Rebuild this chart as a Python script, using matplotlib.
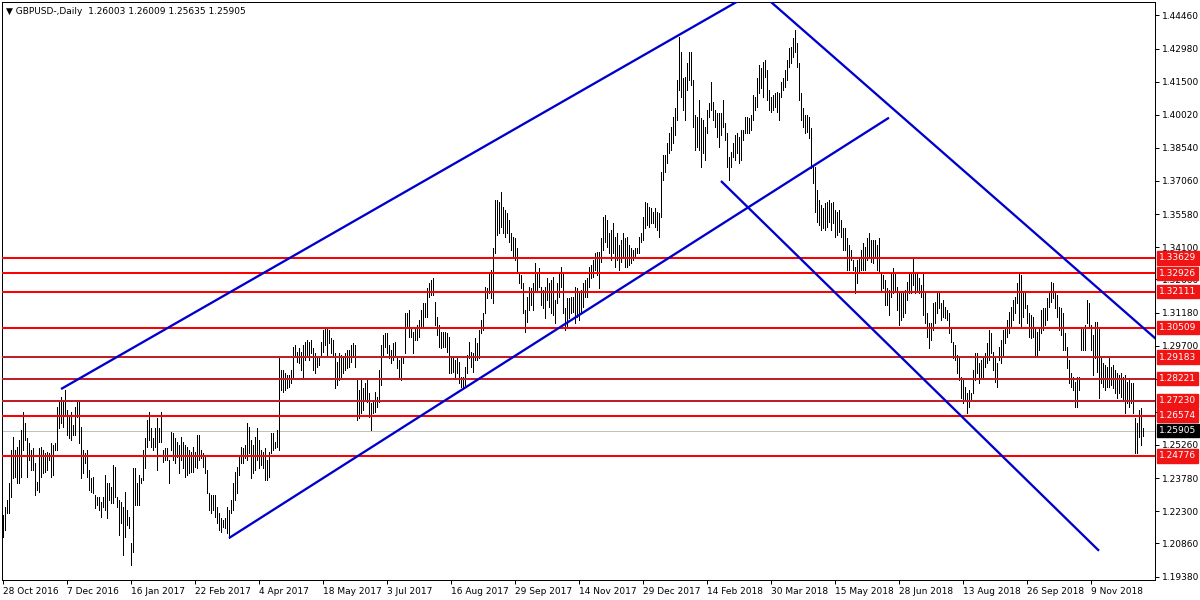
import numpy as np
import matplotlib
matplotlib.use("Agg")
import matplotlib.pyplot as plt
import matplotlib.transforms as mtransforms

# GBPUSD daily chart (MT4 style)

chart_title = "\u25bc GBPUSD-,Daily  1.26003 1.26009 1.25635 1.25905"
last_close = 1.25905

# daily highs and lows in pips (12213 -> 1.2213), one entry per bar
high_pips = [
    12213, 12249, 12280, 12356, 12504, 12562, 12504, 12517, 12548, 12593,
    12673, 12624, 12557, 12535, 12504, 12512, 12445, 12360, 12512, 12517,
    12504, 12490, 12495, 12490, 12535, 12526, 12535, 12696, 12727, 12740,
    12727, 12772, 12682, 12660, 12673, 12615, 12696, 12727, 12727, 12606,
    12504, 12490, 12504, 12414, 12378, 12383, 12302, 12293, 12293, 12271,
    12293, 12392, 12356, 12356, 12338, 12436, 12428, 12293, 12280, 12271,
    12249, 12316, 12235, 12204, 12088, 12423, 12423, 12356, 12392, 12378,
    12504, 12557, 12638, 12673, 12602, 12557, 12602, 12647, 12602, 12673,
    12504, 12512, 12512, 12459,
    12584, 12580, 12557, 12539, 12526, 12562, 12539, 12526, 12517, 12504,
    12495, 12517, 12495, 12571, 12571, 12504, 12490, 12472, 12414, 12311,
    12302, 12302, 12302, 12249, 12222, 12200, 12191, 12200, 12249, 12235,
    12280, 12356, 12405, 12428, 12472, 12517, 12512, 12526, 12624, 12606,
    12548, 12526, 12562, 12602, 12548, 12504, 12495, 12512, 12459, 12495,
    12580, 12580, 12539, 12593, 12915, 12861, 12861, 12848, 12839, 12839,
    12861, 12964, 12973, 12942, 12959, 12942, 12973, 12986, 12995, 12986,
    12995, 12959, 12937, 12915, 12919, 12986, 13040, 13049, 13049, 13040,
    13004, 12995,
    12937, 12897, 12937, 12928, 12919, 12937, 12951, 12951, 12973, 12982,
    12973, 12816, 12772, 12816, 12781, 12803, 12816, 12758, 12714, 12718,
    12763, 12740, 12861, 12973, 13018, 13027, 13027, 12973, 12951, 12982,
    12986, 12915, 12906, 12915, 12919, 13116, 13116, 13129, 13053, 13031,
    13049, 13062, 13085, 13129, 13161, 13161, 13228, 13250, 13263, 13272,
    13165, 13098, 13062, 13031, 13031, 13031, 13027, 13009, 12919, 12915,
    12906, 12919, 12897, 12830, 12830, 12875, 12928, 12986, 12942, 12937,
    13004, 12982, 13040, 13085, 13116, 13232, 13228, 13295, 13308, 13406,
    13621, 13621,
    13612, 13657, 13590, 13576, 13563, 13532, 13474, 13456, 13451, 13406,
    13295, 13286, 13250, 13129, 13187, 13232, 13228, 13250, 13339, 13295,
    13317, 13232, 13219, 13232, 13272, 13250, 13263, 13277, 13174, 13250,
    13299, 13321, 13295, 13138, 13183, 13183, 13187, 13187, 13232, 13228,
    13205, 13219, 13250, 13263, 13272, 13321, 13330, 13353, 13384, 13389,
    13389, 13451, 13545, 13554, 13532, 13474, 13487, 13518, 13456, 13474,
    13420, 13442, 13474, 13451, 13456, 13420, 13406, 13398, 13406, 13406,
    13456, 13474, 13545, 13612, 13608, 13590, 13585, 13567, 13585, 13567,
    13563, 13746, 13822,
    13822, 13876, 13920, 13947, 13992, 14032, 14157, 14350, 14283, 14166,
    14171, 14233, 14283, 14283, 14157, 14001, 13992, 14068, 13988, 13979,
    13947, 14023, 14055, 14149, 14059, 14023, 14010, 14010, 14010, 14068,
    13965, 13920, 13813, 13836, 13876, 13912, 13920, 13903, 13934, 13934,
    13992, 13992, 13988, 14001, 14090, 14081, 14166, 14224, 14211, 14238,
    14247, 14202, 14113, 14081, 14090, 14099, 14104, 14099, 14149, 14166,
    14202, 14247, 14300, 14305, 14345, 14381, 14323, 14233, 14099, 14032,
    14001, 14001, 13992, 13943, 13777, 13769, 13666, 13621, 13599, 13585,
    13608, 13612, 13621, 13608, 13612, 13576, 13567, 13576, 13532, 13496,
    13496, 13451, 13420, 13398, 13353, 13321, 13353, 13362, 13398, 13429,
    13411, 13451, 13474, 13442, 13442, 13442, 13420, 13451, 13295, 13286,
    13263, 13228, 13219, 13295, 13317, 13295, 13232, 13210, 13210, 13205,
    13219, 13254, 13295, 13295, 13362, 13299, 13295, 13272, 13241, 13295,
    13205, 13116, 13071, 13071, 13161, 13165, 13205, 13205, 13161, 13174,
    13143, 13129, 13116, 13049, 12986, 12973, 12928, 12915, 12830, 12816,
    12785, 12758, 12772, 12758, 12861, 12937, 12937, 12892, 12906, 12919,
    12937, 12982, 13040, 13027, 12942,
    12919, 12892, 12964, 12995, 13040, 13049, 13085, 13120, 13143, 13174,
    13187, 13250, 13295, 13286, 13210, 13210, 13152, 13116, 13107, 13098,
    13053, 13031, 13049, 13129, 13138, 13138, 13183, 13210, 13254, 13250,
    13210, 13196, 13143, 13138, 13116, 13027, 12964, 12906, 12848, 12830,
    12807, 12830, 12830, 13049, 13053, 13062, 13174, 13161, 13062, 13018,
    13076, 13076, 13053, 12919, 12892, 12883, 12875, 12919, 12875, 12883,
    12861, 12848, 12839, 12848, 12830, 12839, 12807, 12816, 12803, 12803,
    12647, 12624, 12682, 12691, 12601,
]

low_pips = [
    12115, 12146, 12222, 12222, 12293, 12378, 12383, 12356, 12356, 12383,
    12504, 12548, 12383, 12459, 12414, 12414, 12302, 12325, 12316, 12383,
    12401, 12405, 12414, 12459, 12383, 12392, 12504, 12504, 12602, 12624,
    12606, 12660, 12571, 12557, 12548, 12571, 12571, 12651, 12535, 12378,
    12401, 12445, 12383, 12325, 12316, 12311, 12244, 12258, 12235, 12204,
    12249, 12235, 12200, 12280, 12267, 12267, 12293, 12249, 12124, 12177,
    12034, 12115, 12168, 12155, 11989, 12048, 12258, 12258, 12258, 12356,
    12369, 12423, 12517, 12548, 12517, 12504, 12517, 12414, 12539, 12539,
    12450, 12459, 12459, 12356,
    12504, 12459, 12445, 12472, 12401, 12459, 12423, 12383, 12392, 12401,
    12405, 12405, 12428, 12423, 12459, 12468, 12428, 12401, 12311, 12235,
    12222, 12235, 12204, 12177, 12146, 12137, 12159, 12155, 12132, 12110,
    12222, 12235, 12280, 12311, 12392, 12445, 12445, 12468, 12459, 12490,
    12378, 12401, 12414, 12459, 12423, 12436, 12423, 12369, 12369, 12383,
    12490, 12504, 12512, 12517, 12504, 12772, 12763, 12772, 12781, 12785,
    12803, 12830, 12928, 12897, 12892, 12861, 12830, 12906, 12919, 12906,
    12937, 12861, 12848, 12875, 12883, 12919, 12942, 12973, 12928, 12982,
    12937, 12928,
    12781, 12794, 12816, 12830, 12848, 12861, 12870, 12875, 12897, 12919,
    12875, 12638, 12647, 12669, 12682, 12727, 12718, 12651, 12593, 12669,
    12673, 12696, 12718, 12794, 12919, 12964, 12937, 12915, 12892, 12906,
    12919, 12870, 12830, 12816, 12892, 12937, 13053, 13009, 13009, 12937,
    12995, 12995, 13009, 13053, 13053, 13098, 13098, 13187, 13196, 13196,
    13062, 13018, 12964, 12959, 12964, 12964, 12942, 12848, 12848, 12852,
    12830, 12848, 12803, 12785, 12785, 12794, 12848, 12915, 12875, 12852,
    12906, 12906, 12915, 13027, 13040, 13116, 13183, 13205, 13183, 13161,
    13384, 13465,
    13474, 13500, 13474, 13456, 13474, 13433, 13398, 13366, 13353, 13295,
    13250, 13228, 13116, 13031, 13076, 13129, 13152, 13129, 13219, 13219,
    13232, 13152, 13138, 13094, 13174, 13143, 13116, 13107, 13071, 13161,
    13187, 13232, 13116, 13040, 13053, 13094, 13116, 13120, 13071, 13098,
    13085, 13116, 13143, 13187, 13187, 13232, 13272, 13277, 13308, 13286,
    13228, 13344, 13398, 13433, 13411, 13384, 13353, 13384, 13321, 13353,
    13308, 13344, 13366, 13321, 13321, 13330, 13339, 13353, 13362, 13384,
    13384, 13433, 13442, 13496, 13509, 13500, 13518, 13518, 13500, 13487,
    13456, 13545, 13710,
    13746, 13786, 13831, 13845, 13876, 13912, 13979, 14113, 14081, 14023,
    13979, 14113, 14157, 14135, 13947, 13845, 13858, 13845, 13769, 13831,
    13800, 13920, 13992, 14023, 13979, 13947, 13903, 13858, 13912, 13947,
    13889, 13769, 13710, 13769, 13813, 13800, 13831, 13786, 13800, 13889,
    13920, 13920, 13920, 13934, 13979, 14023, 14037, 14099, 14122, 14081,
    14171, 14068, 14023, 14014, 14023, 14037, 14014, 13979, 14081, 14113,
    14126, 14157, 14216, 14233, 14260, 14283, 14216, 14068, 13979, 13947,
    13920, 13925, 13898, 13764, 13697, 13567, 13523, 13509, 13487, 13496,
    13487, 13500, 13523, 13487, 13518, 13456, 13465, 13478, 13456, 13398,
    13398, 13308, 13308, 13353, 13308, 13205, 13250, 13295, 13308, 13308,
    13308, 13353, 13366, 13344, 13339, 13366, 13308, 13295, 13219, 13228,
    13152, 13152, 13107, 13187, 13205, 13219, 13129, 13062, 13085, 13098,
    13116, 13174, 13205, 13205, 13241, 13205, 13219, 13205, 13187, 13107,
    13071, 13009, 12959, 12995, 13040, 13071, 13116, 13138, 13085, 13098,
    13094, 13085, 13027, 12986, 12915, 12906, 12848, 12816, 12736, 12714,
    12727, 12669, 12696, 12727, 12758, 12816, 12848, 12803, 12825, 12830,
    12875, 12892, 12906, 12937, 12861,
    12807, 12785, 12906, 12892, 12919, 12982, 13009, 13027, 13053, 13085,
    13116, 13161, 13071, 13053, 13098, 13138, 13071, 13009, 13004, 13009,
    12928, 12928, 12951, 13027, 13040, 13062, 13085, 13143, 13165, 13183,
    13138, 13098, 13040, 13018, 12951, 12951, 12870, 12803, 12785, 12772,
    12696, 12696, 12772, 12951, 12951, 12951, 13071, 13049, 12951, 12839,
    12915, 12852, 12736, 12803, 12785, 12772, 12785, 12785, 12794, 12781,
    12758, 12736, 12758, 12740, 12727, 12669, 12714, 12696, 12714, 12669,
    12490, 12490, 12562, 12526, 12564,
]

# bottom axis labels, one every 32 bars
date_labels = [
    "28 Oct 2016", "7 Dec 2016", "16 Jan 2017", "22 Feb 2017", "4 Apr 2017",
    "18 May 2017", "3 Jul 2017", "16 Aug 2017", "29 Sep 2017", "14 Nov 2017",
    "29 Dec 2017", "14 Feb 2018", "30 Mar 2018", "15 May 2018", "28 Jun 2018",
    "13 Aug 2018", "26 Sep 2018", "9 Nov 2018",
]
date_step = 32

price_ticks = [
    1.44460, 1.42980, 1.41500, 1.40020, 1.38540, 1.37060, 1.35580, 1.34100,
    1.32660, 1.31180, 1.29700, 1.28220, 1.26740, 1.25260, 1.23780, 1.22300,
    1.20860, 1.19380,
]
# these two scale labels sit under the level boxes in the screenshot
hidden_ticks = [1.28220, 1.26740]

# horizontal support / resistance levels
levels = [1.33629, 1.32926, 1.32111, 1.30509, 1.29183, 1.28221, 1.27230, 1.26574, 1.24776]
line_colors = ["#ff0000", "#ff0000", "#ff0000", "#ff0000", "#c01e28",
               "#c01e28", "#c01e28", "#ff0000", "#ff0000"]
box_color = "#f01414"

# trend lines as (bar, price) anchors
trend_starts = [(29, 1.2776), (113, 1.2110), (384, 1.4506), (359, 1.3706)]
trend_ends = [(380, 1.4574), (443, 1.3989), (578, 1.2988), (548, 1.2053)]

highs = np.array(high_pips) / 10000.0
lows = np.array(low_pips) / 10000.0
bars = np.arange(len(highs))

W, H = 1200, 600
fig = plt.figure(figsize=(W / 100, H / 100), dpi=100)
fig.patch.set_facecolor("white")
ax = fig.add_axes([2 / W, 20 / H, 1153 / W, 578 / H])
ax.set_facecolor("white")

px = 72 / 100  # one pixel in points

ax.axhline(last_close, color="#c0c0c0", lw=px, zorder=1)
ax.vlines(bars, lows, highs, color="black", lw=px, antialiased=False, zorder=2)

for lvl, col in zip(levels, line_colors):
    ax.axhline(lvl, color=col, lw=2 * px, zorder=3)

for (x0, y0), (x1, y1) in zip(trend_starts, trend_ends):
    ax.plot([x0, x1], [y0, y1], color="#0000cd", lw=2.3 * px,
            solid_capstyle="butt", zorder=4)

ax.set_xlim(-0.5, 576)
ax.set_ylim(1.19224, 1.45061)

# axes / ticks
for sp in ax.spines.values():
    sp.set_color("black")
    sp.set_linewidth(px)

ax.yaxis.tick_right()
ax.set_yticks(price_ticks)
ax.set_yticklabels(["" if v in hidden_ticks else f"{v:.5f}" for v in price_ticks])
ax.tick_params(axis="y", direction="out", length=3, width=px, pad=2,
               labelsize=6.5, colors="black")

ax.set_xticks(np.arange(len(date_labels)) * date_step)
ax.set_xticklabels(date_labels, ha="left")
ax.tick_params(axis="x", direction="out", length=3, width=px, pad=2,
               labelsize=6.5, colors="black")

# price boxes on the right scale
blend = mtransforms.blended_transform_factory(ax.transAxes, ax.transData)
for lvl in levels:
    ax.text(1.0 + 4 / 1153, lvl, f"{lvl:.5f}", transform=blend, ha="left",
            va="center", color="white", fontsize=6.5, zorder=20, clip_on=False,
            bbox=dict(boxstyle="square,pad=0.25", fc=box_color, ec=box_color))
ax.text(1.0 + 4 / 1153, last_close, f"{last_close:.5f}", transform=blend,
        ha="left", va="center", color="white", fontsize=6.5, zorder=20,
        clip_on=False, bbox=dict(boxstyle="square,pad=0.25", fc="black", ec="black"))

ax.text(4 / 1153, 1 - 9 / 578, chart_title, transform=ax.transAxes,
        ha="left", va="center", fontsize=6.5, color="black")

fig.savefig("out.png", dpi=100, facecolor="white")
